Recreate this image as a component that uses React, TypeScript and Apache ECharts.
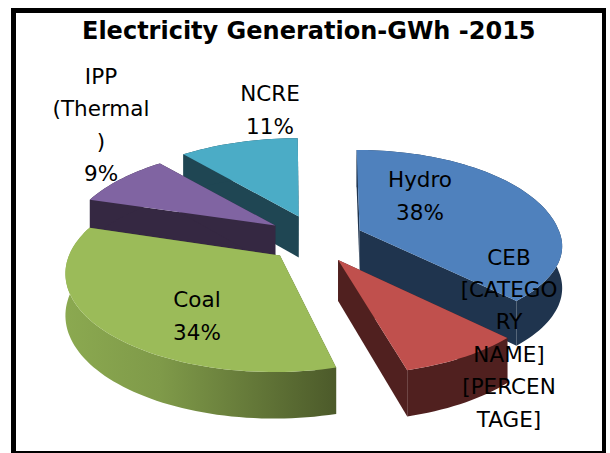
import React, { useEffect, useRef } from "react";
import * as echarts from "echarts";

const titleText = "Electricity Generation-GWh -2015";
const categories = ["Hydro", "CEB", "Coal", "IPP (Thermal)", "NCRE"];
const values = [38, 8, 34, 9, 11];
const labelTexts = [
  "Hydro\n38%",
  "CEB\n[CATEGO\nRY\nNAME]\n[PERCEN\nTAGE]",
  "Coal\n34%",
  "IPP\n(Thermal\n)\n9%",
  "NCRE\n11%",
];
const topColors = ["#4F81BD", "#C0504D", "#9BBB59", "#8064A2", "#4BACC6"];
const sideColors = ["#1F344E", "#50201F", "#4F5E2C", "#352842", "#1F4653"];
const outerColors: any[] = [
  "#1F344E",
  "#50201F",
  {
    type: "linear", x: 0, y: 0, x2: 1, y2: 0,
    colorStops: [
      { offset: 0, color: "#8BA950" },
      { offset: 0.35, color: "#7F9A49" },
      { offset: 1, color: "#4C5A2A" },
    ],
  },
  "#352842",
  "#1F4653",
];

// layout of the projected pie
const CX = 315, CY = 239;
const EXPLODE_X = 48, EXPLODE_Y = 24;
const RY = 95, PERSP = 0.185, DEPTH = 41, DEPTH_PERSP = 0.6;
const sliceRx = [202, 205, 205, 205, 205];
const sliceRyFront = [84, 95, 95, 95, 95];
const arcShiftX = [-3, 7, -6, -1, -1];
const arcShiftY = [0, -2, 0, 2, 2];
const paintOrder = [2, 4, 3, 1, 0]; // back-to-front rank of each slice
const labelPos = [
  [420, 196],
  [509, 338],
  [197, 316],
  [101, 125],
  [270, 110],
];

const total = values.reduce((a, b) => a + b, 0);
const toRad = (share: number) => (share / total) * Math.PI * 2;

function sliceShapes(index: number) {
  let start = 0;
  for (let i = 0; i < index; i++) start += toRad(values[i]);
  const end = start + toRad(values[index]);
  const mid = (start + end) / 2;
  const ax = CX + EXPLODE_X * Math.sin(mid);
  const ay = CY - EXPLODE_Y * Math.cos(mid);
  const top: number[][] = [];
  const bottom: number[][] = [];
  const steps = Math.max(8, Math.round((end - start) / 0.03));
  for (let k = 0; k <= steps; k++) {
    const t = start + ((end - start) * k) / steps;
    const u = Math.sin(t);
    const v = -Math.cos(t);
    const s = 1 / (1 - PERSP * v);
    const ry = v > 0 ? sliceRyFront[index] : RY;
    const x = ax + arcShiftX[index] + sliceRx[index] * u * s;
    const y = ay + arcShiftY[index] + ry * v * s;
    top.push([x, y]);
    bottom.push([x, y + DEPTH * (1 + (s - 1) * DEPTH_PERSP)]);
  }
  const apexTop = [ax, ay];
  const apexBottom = [ax, ay + DEPTH];
  return { top, bottom, apexTop, apexBottom };
}

function renderSlice(params: any) {
  const i = params.dataIndex;
  const { top, bottom, apexTop, apexBottom } = sliceShapes(i);
  const base = paintOrder[i] * 10;
  const n = top.length - 1;
  const poly = (points: number[][], fill: any, z2: number) => ({
    type: "polygon",
    z2,
    shape: { points },
    style: { fill, stroke: null },
    silent: true,
  });
  return {
    type: "group",
    children: [
      poly([apexTop, top[0], bottom[0], apexBottom], sideColors[i], base),
      poly([apexTop, top[n], bottom[n], apexBottom], sideColors[i], base + 1),
      poly([...top, ...bottom.slice().reverse()], outerColors[i], base + 2),
      poly([apexTop, ...top], topColors[i], base + 3),
      {
        type: "text",
        z2: 100,
        x: labelPos[i][0],
        y: labelPos[i][1],
        style: {
          text: labelTexts[i],
          fill: "#000000",
          font: "21.5px 'DejaVu Sans'",
          lineHeight: 32.4,
          align: "center",
          verticalAlign: "middle",
        },
      },
    ],
  };
}

export default function App() {
  const ref = useRef<HTMLDivElement>(null);
  useEffect(() => {
    const chart = echarts.init(ref.current!, null, { renderer: "svg" });
    chart.setOption({
      animation: false,
      backgroundColor: "#FFFFFF",
      title: {
        text: titleText,
        left: 77,
        top: 14,
        textStyle: {
          fontFamily: "DejaVu Sans",
          fontWeight: "bold",
          fontSize: 24,
          color: "#000000",
        },
      },
      graphic: [
        { type: "rect", shape: { x: 11, y: 8, width: 5, height: 445 }, style: { fill: "#000" } },
        { type: "rect", shape: { x: 11, y: 8, width: 595, height: 5 }, style: { fill: "#000" } },
        { type: "rect", shape: { x: 602, y: 8, width: 4, height: 445 }, style: { fill: "#000" } },
        { type: "rect", shape: { x: 11, y: 451, width: 595, height: 2 }, style: { fill: "#000" } },
      ],
      series: [
        {
          type: "custom",
          coordinateSystem: "none",
          renderItem: renderSlice,
          data: values.map((value, i) => ({ name: categories[i], value })),
        },
      ],
    });
    return () => chart.dispose();
  }, []);
  return (
    <div
      ref={ref}
      style={{ position: "absolute", left: 0, top: 0, width: 610, height: 453 }}
    />
  );
}
